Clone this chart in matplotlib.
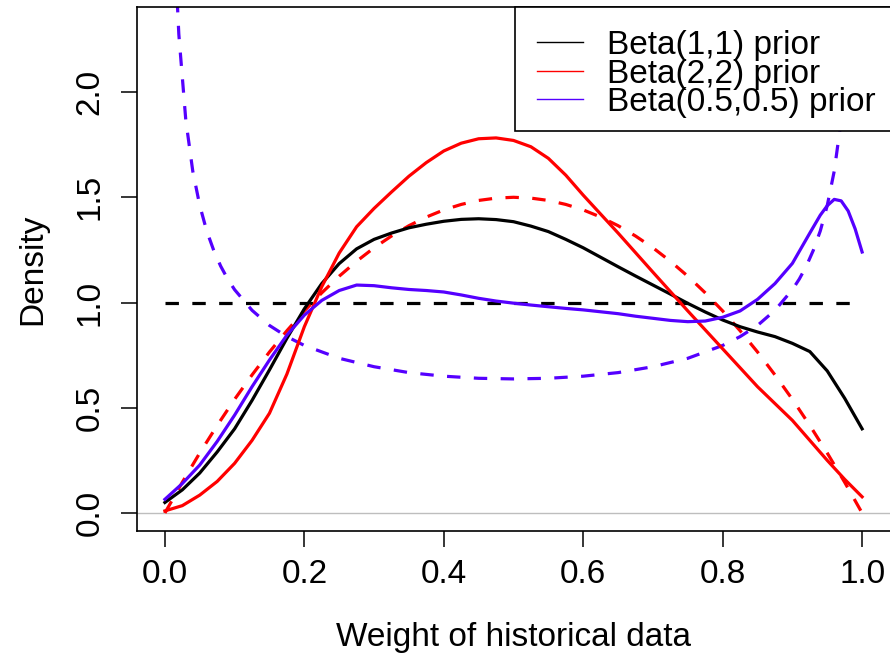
import matplotlib
matplotlib.use("Agg")
import matplotlib.pyplot as plt
from matplotlib.lines import Line2D
from matplotlib.patches import Rectangle

plt.rcParams['font.family'] = ['Liberation Sans', 'DejaVu Sans']

# Posterior densities of the weight of historical data
w_post = [0.0, 0.025, 0.05, 0.075, 0.1, 0.125, 0.15, 0.175, 0.2, 0.225, 0.25, 0.275,
          0.3, 0.325, 0.35, 0.375, 0.4, 0.425, 0.45, 0.475, 0.5, 0.525, 0.55, 0.575,
          0.6, 0.625, 0.65, 0.675, 0.7, 0.725, 0.75, 0.775, 0.8, 0.825, 0.85, 0.875,
          0.9, 0.925, 0.95, 0.975, 1.0]
post_beta11 = [0.05, 0.11, 0.19, 0.29, 0.40, 0.535, 0.68, 0.83, 0.97, 1.09, 1.185, 1.255,
               1.30, 1.33, 1.355, 1.372, 1.386, 1.395, 1.398, 1.394, 1.384, 1.363, 1.337, 1.30,
               1.26, 1.215, 1.17, 1.126, 1.083, 1.04, 0.996, 0.955, 0.917, 0.885, 0.86, 0.838,
               0.806, 0.767, 0.675, 0.545, 0.40]
post_beta22 = [0.01, 0.035, 0.085, 0.15, 0.236, 0.345, 0.474, 0.66, 0.885, 1.075, 1.235, 1.36,
               1.447, 1.525, 1.60, 1.665, 1.72, 1.757, 1.778, 1.782, 1.77, 1.74, 1.685, 1.605,
               1.51, 1.42, 1.33, 1.237, 1.144, 1.052, 0.96, 0.87, 0.78, 0.69, 0.60, 0.52,
               0.44, 0.345, 0.25, 0.16, 0.077]

w_post_j = [0.0, 0.025, 0.05, 0.075, 0.1, 0.125, 0.15, 0.175, 0.2, 0.225, 0.25, 0.275,
            0.3, 0.325, 0.35, 0.375, 0.4, 0.425, 0.45, 0.475, 0.5, 0.525, 0.55, 0.575,
            0.6, 0.625, 0.65, 0.675, 0.7, 0.725, 0.75, 0.775, 0.8, 0.825, 0.85, 0.875,
            0.9, 0.925, 0.94, 0.95, 0.96, 0.97, 0.98, 0.99, 1.0]
post_beta_j = [0.065, 0.14, 0.228, 0.34, 0.465, 0.60, 0.727, 0.845, 0.94, 1.01, 1.057, 1.083,
               1.08, 1.07, 1.062, 1.057, 1.05, 1.036, 1.02, 1.007, 0.997, 0.988, 0.98, 0.972,
               0.965, 0.956, 0.947, 0.935, 0.925, 0.915, 0.909, 0.912, 0.93, 0.96, 1.015, 1.09,
               1.186, 1.33, 1.415, 1.46, 1.49, 1.483, 1.435, 1.35, 1.24]

# Prior densities
w_flat = [0.0, 1.0]
prior_beta11 = [1.0, 1.0]

w_prior22 = [0.0, 0.025, 0.05, 0.075, 0.1, 0.125, 0.15, 0.175, 0.2, 0.225, 0.25, 0.275,
             0.3, 0.325, 0.35, 0.375, 0.4, 0.425, 0.45, 0.475, 0.5, 0.525, 0.55, 0.575,
             0.6, 0.625, 0.65, 0.675, 0.7, 0.725, 0.75, 0.775, 0.8, 0.825, 0.85, 0.875,
             0.9, 0.925, 0.95, 0.975, 1.0]
prior_beta22 = [0.0, 0.146, 0.285, 0.416, 0.54, 0.656, 0.765, 0.866, 0.96, 1.046, 1.125, 1.196,
                1.26, 1.316, 1.365, 1.406, 1.44, 1.466, 1.485, 1.496, 1.5, 1.496, 1.485, 1.466,
                1.44, 1.406, 1.365, 1.316, 1.26, 1.196, 1.125, 1.046, 0.96, 0.866, 0.765, 0.656,
                0.54, 0.416, 0.285, 0.146, 0.0]

w_prior_j = [0.005, 0.01, 0.015, 0.02, 0.03, 0.04, 0.05, 0.06, 0.07, 0.08, 0.09, 0.1, 0.125,
             0.15, 0.175, 0.2, 0.25, 0.3, 0.35, 0.4, 0.45, 0.5, 0.55, 0.6, 0.65, 0.7, 0.75,
             0.8, 0.825, 0.85, 0.875, 0.9, 0.91, 0.92, 0.93, 0.94, 0.95, 0.96, 0.97, 0.98,
             0.985, 0.99, 0.995]
prior_beta_j = [4.513, 3.199, 2.618, 2.274, 1.866, 1.624, 1.461, 1.340, 1.248, 1.173, 1.112,
                1.061, 0.963, 0.891, 0.838, 0.796, 0.735, 0.695, 0.667, 0.650, 0.640, 0.637,
                0.640, 0.650, 0.667, 0.695, 0.735, 0.796, 0.838, 0.891, 0.963, 1.061, 1.112,
                1.173, 1.248, 1.340, 1.461, 1.624, 1.866, 2.274, 2.618, 3.199, 4.513]

legend_labels = ["Beta(1,1) prior", "Beta(2,2) prior", "Beta(0.5,0.5) prior"]
colors = ["black", "#FF0000", "#5500FF"]

x_ticks = [0.0, 0.2, 0.4, 0.6, 0.8, 1.0]
y_ticks = [0.0, 0.5, 1.0, 1.5, 2.0]

W, H = 890, 660
fig = plt.figure(figsize=(W / 100, H / 100), dpi=100)
ax = fig.add_axes([137 / W, (H - 531) / H, 753 / W, 524 / H])

lw = 2.3
dash = (0, (4.2, 4.2))

ax.axhline(0, color="#BEBEBE", lw=1.0, zorder=1)

ax.plot(w_post, post_beta11, color=colors[0], lw=lw, zorder=3, solid_joinstyle="round")
ax.plot(w_post, post_beta22, color=colors[1], lw=lw, zorder=3, solid_joinstyle="round")
ax.plot(w_post_j, post_beta_j, color=colors[2], lw=lw, zorder=3, solid_joinstyle="round")

ax.plot(w_flat, prior_beta11, color=colors[0], lw=lw, linestyle=dash, zorder=2)
ax.plot(w_prior22, prior_beta22, color=colors[1], lw=lw, linestyle=dash, zorder=2)
ax.plot(w_prior_j, prior_beta_j, color=colors[2], lw=lw, linestyle=dash, zorder=2)

ax.set_xlim(-0.04, 1.04)
ax.set_ylim(-0.0855, 2.404)

ax.set_xticks(x_ticks)
ax.set_xticklabels([f"{v:.1f}" for v in x_ticks])
ax.set_yticks(y_ticks)
ax.set_yticklabels([f"{v:.1f}" for v in y_ticks], rotation=90, va="center", ha="right")

ax.tick_params(axis="both", direction="out", length=11.5, width=1.1, labelsize=24,
               colors="black")
ax.tick_params(axis="x", pad=9)
ax.tick_params(axis="y", pad=11)

for side in ("left", "bottom", "top"):
    ax.spines[side].set_linewidth(1.2)
ax.spines["right"].set_visible(False)

ax.set_xlabel("Weight of historical data", fontsize=24)
ax.set_ylabel("Density", fontsize=24)
ax.xaxis.set_label_coords(0.5, -0.173)
ax.yaxis.set_label_coords(-0.118, 0.5)

# Legend box in the top right corner
def fx(px):
    return px / W

def fy(py):
    return (H - py) / H

fig.add_artist(Rectangle((fx(515), fy(131)), fx(895) - fx(515), fy(7) - fy(131),
                         transform=fig.transFigure, facecolor="white",
                         edgecolor="black", lw=1.2, zorder=5))
for i, (lab, col) in enumerate(zip(legend_labels, colors)):
    ry = 42 + i * 28.5
    fig.add_artist(Line2D([fx(537), fx(583)], [fy(ry), fy(ry)], color=col, lw=1.0,
                          transform=fig.transFigure, zorder=6))
    fig.text(fx(607), fy(ry), lab, fontsize=24, va="center_baseline", ha="left",
             zorder=6)

fig.savefig("out.png", dpi=100)
